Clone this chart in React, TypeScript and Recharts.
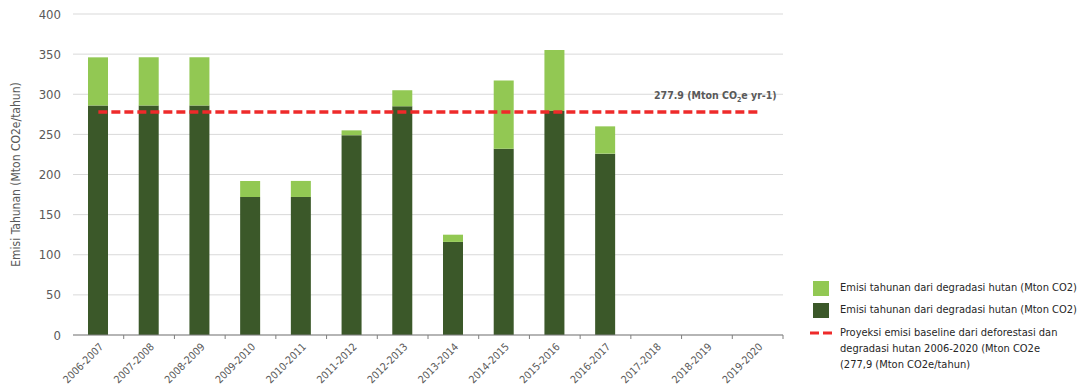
import { ComposedChart, Bar, XAxis, YAxis, CartesianGrid, ReferenceLine, Legend } from 'recharts'

const periods = [
  '2006-2007', '2007-2008', '2008-2009', '2009-2010', '2010-2011', '2011-2012', '2012-2013',
  '2013-2014', '2014-2015', '2015-2016', '2016-2017', '2017-2018', '2018-2019', '2019-2020',
]
// lower (dark) segment of each stack
const emisiBawah = [286, 286, 286, 172, 172, 249, 285, 116, 232, 279, 226, null, null, null]
// upper (light) segment of each stack
const emisiAtas = [60, 60, 60, 20, 20, 6, 20, 9, 85, 76, 34, null, null, null]
const baseline = 277.9
const yTicks = [0, 50, 100, 150, 200, 250, 300, 350, 400]

const legendLabels = [
  'Emisi tahunan dari degradasi hutan (Mton CO2)',
  'Emisi tahunan dari degradasi hutan (Mton CO2)',
  ['Proyeksi emisi baseline dari deforestasi dan', 'degradasi hutan 2006-2020 (Mton CO2e', '(277,9 (Mton CO2e/tahun)'],
]

const data = periods.map((p, i) => ({ periode: p, bawah: emisiBawah[i], atas: emisiAtas[i] }))

const FONT = '"DejaVu Sans Condensed", "DejaVu Sans", sans-serif'
const LIGHT = '#92c853'
const DARK = '#3b5829'
const RED = '#ee2a2a'
const GRAY = '#595959'

const W = 1084
const H = 390
const margin = { top: 14, right: 301, left: 0, bottom: 0 }
const yAxisWidth = 73
const band = (W - margin.right - yAxisWidth) / periods.length

// category label turned 45°, with the tick mark drawn at the right edge of the category
function XTick(props: any) {
  const { x, y, payload } = props
  const tx = Number(x) + 3
  const ty = Number(y) + 2
  return (
    <g className="periode-tick">
      <line x1={Number(x) + band / 2} x2={Number(x) + band / 2} y1={Number(y) - 8} y2={Number(y) - 4} stroke="#7f7f7f" />
      <g transform={`translate(${tx} ${ty}) rotate(-45)`}>
        <text x={0} y={0} dy="0.35em" textAnchor="end" fill={GRAY} fontSize={10.5} fontFamily={FONT}>
          {payload.value}
        </text>
      </g>
    </g>
  )
}

function BaselineLabel(props: any) {
  const { viewBox } = props
  const x = viewBox.x + viewBox.width + 19
  const y = viewBox.y - 13
  return (
    <text x={x} y={y} textAnchor="end" fill={GRAY} fontSize={10.5} fontWeight={700} fontFamily={FONT}>
      {baseline} (Mton CO<tspan fontSize={7} dy={3}>2</tspan><tspan dy={-3}>e yr-1)</tspan>
    </text>
  )
}

function LegendBox() {
  const textStyle = { fontSize: 11, color: '#262626', fontFamily: FONT, lineHeight: '16px', whiteSpace: 'nowrap' as const }
  return (
    <div style={{ fontFamily: FONT }}>
      {[LIGHT, DARK].map((c, i) => (
        <div key={i} style={{ display: 'flex', alignItems: 'center', height: 22 }}>
          <span style={{ width: 16, height: 15, background: c, marginLeft: 3, marginRight: 11 }} />
          <span style={textStyle}>{legendLabels[i] as string}</span>
        </div>
      ))}
      <div style={{ display: 'flex', alignItems: 'flex-start', marginTop: 4 }}>
        <svg width={30} height={16} style={{ flex: 'none' }}>
          <line x1={0} x2={26} y1={8} y2={8} stroke={RED} strokeWidth={3} strokeDasharray="9 4" />
        </svg>
        <span style={textStyle}>
          {(legendLabels[2] as string[]).map((l, i) => <div key={i}>{l}</div>)}
        </span>
      </div>
    </div>
  )
}

export default function App() {
  return (
    <div style={{ position: 'absolute', left: 0, top: 0, width: W, height: H, background: '#fff' }}>
      <ComposedChart width={W} height={H} data={data} margin={margin} barSize={20}>
        <CartesianGrid vertical={false} stroke="#d9d9d9" />
        <XAxis dataKey="periode" height={55} interval={0} tickLine={false} stroke="#7f7f7f"
          tick={(p: any) => <XTick {...p} />} />
        <YAxis domain={[0, 400]} ticks={yTicks} width={yAxisWidth} axisLine={false} tickLine={false}
          tickMargin={6}
          tick={{ fill: GRAY, fontSize: 13, fontFamily: FONT }}
          label={{ value: 'Emisi Tahunan (Mton CO2e/tahun)', angle: -90, position: 'insideLeft', offset: 16,
            style: { fill: GRAY, fontSize: 12, fontFamily: FONT, textAnchor: 'middle' } }} />
        <Bar dataKey="bawah" stackId="a" fill={DARK} isAnimationActive={false} />
        <Bar dataKey="atas" stackId="a" fill={LIGHT} isAnimationActive={false} />
        <ReferenceLine
          segment={[{ x: periods[0], y: baseline }, { x: periods[periods.length - 1], y: baseline }]}
          stroke={RED} strokeWidth={3.5} strokeDasharray="9 4" label={<BaselineLabel />} />
        <Legend layout="vertical" align="center" verticalAlign="middle" content={<LegendBox />}
          wrapperStyle={{ position: 'absolute', left: 810, top: 277, width: 274 }} />
      </ComposedChart>
    </div>
  )
}
